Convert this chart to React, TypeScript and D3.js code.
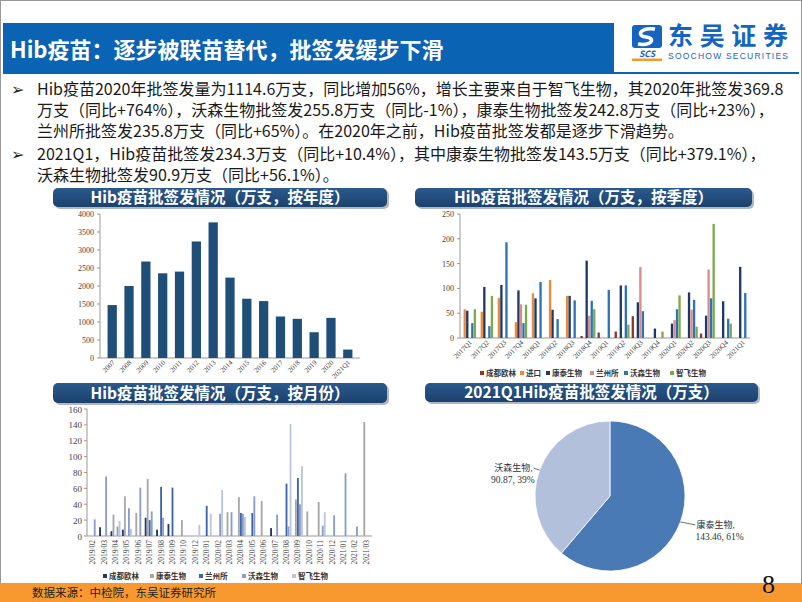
import React from "react";
import * as d3 from "d3";

const CJK = '"Noto Sans CJK SC", "Noto Sans", sans-serif';
const SERIF = '"Liberation Serif", "DejaVu Serif", "Noto Sans CJK SC", serif';

// 年度批签发
const years = ["2007", "2008", "2009", "2010", "2011", "2012", "2013", "2014", "2015", "2016", "2017", "2018", "2019", "2020", "2021Q1"];
const yearValues = [1470, 2000, 2680, 2353, 2400, 3237, 3767, 2233, 1647, 1581, 1153, 1088, 716, 1114.6, 234.3];
const yearTicks = [0, 500, 1000, 1500, 2000, 2500, 3000, 3500, 4000];

// 季度批签发
const quarters = ["2017Q1", "2017Q2", "2017Q3", "2017Q4", "2018Q1", "2018Q2", "2018Q3", "2018Q4", "2019Q1", "2019Q2", "2019Q3", "2019Q4", "2020Q1", "2020Q2", "2020Q3", "2020Q4", "2021Q1"];
const qSeries = ["成都欧林", "进口", "康泰生物", "兰州所", "沃森生物", "智飞生物"];
const qColors = ["#8E3330", "#F0883A", "#1F3864", "#D98C8A", "#2E73B8", "#79AD4A"];
const qChengdu = [0, 0, 0, 0, 0, 0, 0, 4, 11, 13, 44, 0, 0, 0, 9, 0, 0];
const qImport = [58, 53, 81, 32, 90, 117, 85, 0, 0, 0, 0, 0, 0, 0, 0, 0, 0];
const qKangtai = [55, 103, 107, 96, 80, 57, 85, 156, 0, 106, 72, 19, 29, 92, 45, 74, 143.5];
const qLanzhou = [0, 0, 0, 68, 0, 0, 0, 45, 0, 0, 143, 0, 36, 57, 138, 0, 0];
const qWosen = [30, 24, 193, 30, 113, 38, 76, 75, 97, 106, 54, 0, 58, 77, 80, 39, 90.9];
const qZhifei = [58, 85, 0, 67, 0, 0, 0, 58, 0, 27, 0, 13, 86, 23, 230, 29, 0];
const qTicks = [0, 50, 100, 150, 200, 250];

// 月度批签发
const months = ["2019/02", "2019/03", "2019/04", "2019/05", "2019/06", "2019/07", "2019/08", "2019/09", "2019/10", "2019/12", "2020/01", "2020/02", "2020/03", "2020/04", "2020/05", "2020/06", "2020/07", "2020/08", "2020/09", "2020/10", "2020/11", "2020/12", "2021/01", "2021/02", "2021/03"];
const mSeries = ["成都欧林", "康泰生物", "兰州所", "沃森生物", "智飞生物"];
const mColors = ["#1F3864", "#A8A8A8", "#3B66AE", "#8A9DC8", "#BAC6DF"];
const mChengdu = [0, 11, 6, 8, 0, 23, 8, 15, 0, 0, 0, 0, 0, 0, 0, 0, 10, 0, 0, 0, 0, 0, 0, 0, 0];
const mKangtai = [0, 0, 27, 50, 29, 72, 0, 0, 20, 0, 0, 0, 30, 49, 0, 44, 0, 0, 46, 31, 43, 0, 0, 0, 143.5];
const mLanzhou = [0, 0, 0, 0, 0, 20, 62, 61, 0, 0, 38, 0, 0, 29, 29, 0, 0, 66, 73, 0, 0, 0, 0, 0, 0];
const mWosen = [21, 75, 12, 35, 61, 31, 23, 0, 0, 0, 0, 28, 30, 28, 50, 0, 27, 12, 40, 0, 13, 26, 79, 12, 0];
const mZhifei = [0, 0, 19, 9, 0, 0, 0, 0, 0, 14, 28, 58, 0, 24, 0, 0, 0, 141, 88, 0, 30, 0, 0, 0, 0];
const mTicks = [0, 20, 40, 60, 80, 100, 120, 140, 160];

// 2021Q1 结构
const pieNames = ["康泰生物", "沃森生物"];
const pieValues = [143.46, 90.87];
const pieShares = ["61%", "39%"];
const pieColors = ["#4A7AB6", "#B2C0DC"];

const bullets = [
  ["Hib疫苗2020年批签发量为1114.6万支，同比增加56%，增长主要来自于智飞生物，其2020年批签发369.8",
    "万支（同比+764%），沃森生物批签发255.8万支（同比-1%），康泰生物批签发242.8万支（同比+23%），",
    "兰州所批签发235.8万支（同比+65%）。在2020年之前，Hib疫苗批签发都是逐步下滑趋势。"],
  ["2021Q1，Hib疫苗批签发234.3万支（同比+10.4%），其中康泰生物批签发143.5万支（同比+379.1%），",
    "沃森生物批签发90.9万支（同比+56.1%）。"],
];

function Banner({ x, y, w, h, text }: { x: number; y: number; w: number; h: number; text: string }) {
  return (
    <g>
      <rect x={x + 2} y={y + 2} width={w} height={h} rx={5} fill="#8d99a8" opacity={0.7} />
      <rect x={x} y={y} width={w} height={h} rx={5} fill="url(#bannerGrad)" />
      <text x={x + w / 2} y={y + h / 2 + 5.5} textAnchor="middle" fill="#fff" fontFamily={CJK} fontWeight="bold" fontSize={15.5}>
        {text}
      </text>
    </g>
  );
}

function YearChart() {
  const left = 100, right = 360, bottom = 358, top = 214;
  const x = d3.scaleBand().domain(years).range([left, right]).padding(0.45);
  const y = d3.scaleLinear().domain([0, 4000]).range([bottom, top]);
  return (
    <g>
      <line x1={left} x2={left} y1={top} y2={bottom} stroke="#999" />
      <line x1={left} x2={right} y1={bottom} y2={bottom} stroke="#999" />
      {yearTicks.map((t) => (
        <g key={t}>
          <line x1={left - 3} x2={left} y1={y(t)} y2={y(t)} stroke="#999" />
          <text x={left - 6} y={y(t) + 3} textAnchor="end" fontSize={8} fontFamily={SERIF} fill="#444">{t}</text>
        </g>
      ))}
      {years.map((c, i) => (
        <rect key={c} x={x(c)} y={y(yearValues[i])} width={x.bandwidth()} height={bottom - y(yearValues[i])} fill="#1F4E79" />
      ))}
      {years.map((c) => (
        <text key={c} transform={`translate(${(x(c) as number) + x.bandwidth() / 2 + 3},${bottom + 5}) rotate(-45)`}
          textAnchor="end" fontSize={7} fontFamily={SERIF} fill="#444">{c}</text>
      ))}
    </g>
  );
}

function QuarterChart() {
  const left = 460, right = 750, bottom = 338, top = 214;
  const data = [qChengdu, qImport, qKangtai, qLanzhou, qWosen, qZhifei];
  const x0 = d3.scaleBand().domain(quarters).range([left, right]).paddingInner(0.1).paddingOuter(0.05);
  const x1 = d3.scaleBand().domain(qSeries).range([0, x0.bandwidth()]).padding(0.08);
  const y = d3.scaleLinear().domain([0, 250]).range([bottom, top]);
  const legendX = [480, 520, 546, 590, 624, 670];
  return (
    <g>
      <line x1={left} x2={left} y1={top} y2={bottom} stroke="#999" />
      <line x1={left} x2={right} y1={bottom} y2={bottom} stroke="#999" />
      {qTicks.map((t) => (
        <g key={t}>
          <line x1={left - 3} x2={left} y1={y(t)} y2={y(t)} stroke="#999" />
          <text x={left - 6} y={y(t) + 3} textAnchor="end" fontSize={8} fontFamily={SERIF} fill="#444">{t}</text>
        </g>
      ))}
      {quarters.map((q, i) => (
        <g key={q} transform={`translate(${x0(q)},0)`}>
          {qSeries.map((s, j) =>
            data[j][i] > 0 ? (
              <rect key={s} x={x1(s)} y={y(data[j][i])} width={x1.bandwidth()} height={bottom - y(data[j][i])} fill={qColors[j]} />
            ) : null
          )}
        </g>
      ))}
      {quarters.map((q) => (
        <text key={q} transform={`translate(${(x0(q) as number) + x0.bandwidth() / 2 + 4},${bottom + 5}) rotate(-45)`}
          textAnchor="end" fontSize={7} fontFamily={SERIF} fill="#444">{q}</text>
      ))}
      {qSeries.map((s, j) => (
        <g key={s}>
          <rect x={legendX[j]} y={371} width={4} height={4} fill={qColors[j]} />
          <text x={legendX[j] + 6} y={376} fontSize={7.5} fontFamily={CJK} fontWeight="bold" fill="#333">{s}</text>
        </g>
      ))}
    </g>
  );
}

function MonthChart() {
  const left = 87, right = 372, bottom = 536, top = 409;
  const data = [mChengdu, mKangtai, mLanzhou, mWosen, mZhifei];
  const x0 = d3.scaleBand().domain(months).range([left, right]).paddingInner(0.1).paddingOuter(0.05);
  const x1 = d3.scaleBand().domain(mSeries).range([0, x0.bandwidth()]).padding(0.08);
  const y = d3.scaleLinear().domain([0, 160]).range([bottom, top]);
  const legendX = [103, 150, 199, 242, 292];
  return (
    <g>
      <line x1={left} x2={left} y1={top} y2={bottom} stroke="#999" />
      <line x1={left} x2={right} y1={bottom} y2={bottom} stroke="#999" />
      {mTicks.map((t) => (
        <g key={t}>
          <line x1={left - 3} x2={left} y1={y(t)} y2={y(t)} stroke="#999" />
          <text x={left - 5} y={y(t) + 3.5} textAnchor="end" fontSize={9} fontFamily={SERIF} fill="#444">{t}</text>
        </g>
      ))}
      {months.map((m, i) => (
        <g key={m} transform={`translate(${x0(m)},0)`}>
          {mSeries.map((s, j) =>
            data[j][i] > 0 ? (
              <rect key={s} x={x1(s)} y={y(data[j][i])} width={x1.bandwidth()} height={bottom - y(data[j][i])} fill={mColors[j]} />
            ) : null
          )}
        </g>
      ))}
      {months.map((m) => (
        <text key={m} transform={`translate(${(x0(m) as number) + x0.bandwidth() / 2 + 2.5},${bottom + 4}) rotate(-90)`}
          textAnchor="end" fontSize={7.5} fontFamily={SERIF} fill="#444">{m}</text>
      ))}
      {mSeries.map((s, j) => (
        <g key={s}>
          <rect x={legendX[j]} y={574} width={4} height={4} fill={mColors[j]} />
          <text x={legendX[j] + 6} y={579} fontSize={7.5} fontFamily={CJK} fontWeight="bold" fill="#333">{s}</text>
        </g>
      ))}
    </g>
  );
}

function PieChart() {
  const cx = 610, cy = 496, r = 75;
  const pie = d3.pie<number>().sort(null).value((d) => d);
  const arcs = pie(pieValues);
  const arc = d3.arc<d3.PieArcDatum<number>>().innerRadius(0).outerRadius(r);
  return (
    <g transform={`translate(${cx},${cy})`}>
      {arcs.map((a, i) => (
        <path key={pieNames[i]} d={arc(a) as string} fill={pieColors[i]} stroke="#fff" strokeWidth={0.8} />
      ))}
      {arcs.map((a, i) => {
        const mid = (a.startAngle + a.endAngle) / 2;
        const px = Math.sin(mid) * r;
        const py = -Math.cos(mid) * r;
        const side = px > 0 ? 1 : -1;
        const qx = px + side * (side > 0 ? 15 : 6);
        const qy = py + (side > 0 ? 3 : -2);
        return (
          <g key={pieNames[i]}>
            <polyline points={`${px},${py} ${qx},${qy}`} fill="none" stroke="#333" strokeWidth={0.7} />
            <text x={qx + (side > 0 ? 1 : -1)} y={qy + 3} textAnchor={side > 0 ? "start" : "end"} fontSize={9} fontFamily={SERIF} fill="#333">
              {pieNames[i]},
            </text>
            <text x={qx + (side > 0 ? 0 : 1)} y={qy + 15} textAnchor={side > 0 ? "start" : "end"} fontSize={9.5} fontFamily={SERIF} fill="#333">
              {pieValues[i].toFixed(2)}, {pieShares[i]}
            </text>
          </g>
        );
      })}
    </g>
  );
}

export default function App() {
  const lineY = [95, 116, 137, 160, 181];
  let k = 0;
  return (
    <div style={{ position: "absolute", left: 0, top: 0 }}>
      <svg width={802} height={602} style={{ display: "block" }}>
        <defs>
          <linearGradient id="bannerGrad" x1="0" y1="0" x2="0" y2="1">
            <stop offset="0" stopColor="#2A5A8E" />
            <stop offset="1" stopColor="#1B416D" />
          </linearGradient>
        </defs>
        <rect x={0} y={0} width={802} height={602} fill="#fff" />
        <rect x={0.5} y={0.5} width={801} height={601} fill="none" stroke="#999" />

        {/* header */}
        <rect x={3} y={23} width={611} height={51} fill="#0B63B3" />
        <rect x={3} y={72} width={796} height={2} fill="#0B63B3" />
        <text x={10} y={58} fill="#fff" fontFamily={CJK} fontWeight="bold" fontSize={22}>
          Hib疫苗：逐步被联苗替代，批签发缓步下滑
        </text>

        {/* logo */}
        <g>
          <rect x={632} y={25} width={30} height={23} rx={3} fill="#1565C0" />
          <path d="M655 29 C640 27 636 36 646 37 C656 38 652 46 638 44" fill="none" stroke="#fff" strokeWidth={3.5} />
          <text x={647} y={57} textAnchor="middle" fontFamily={CJK} fontWeight="bold" fontStyle="italic" fontSize={8.5} fill="#1565C0">SCS</text>
          <rect x={632} y={58.5} width={30} height={2.5} fill="#F39A2B" />
          <text x={668} y={45} fontFamily={CJK} fontWeight="bold" fontSize={25} fill="#1565C0" textLength={120}>东吴证券</text>
          <text x={668} y={59} fontFamily={'"Liberation Sans", sans-serif'} fontSize={8.5} fill="#1565C0" textLength={120}>SOOCHOW SECURITIES</text>
        </g>

        {/* bullets */}
        {bullets.map((para) =>
          para.map((ln, j) => {
            const yy = lineY[k++];
            return (
              <g key={ln}>
                {j === 0 && (
                  <text x={11} y={yy} fontFamily={'"DejaVu Sans", sans-serif'} fontSize={16} fill="#222">➢</text>
                )}
                <text x={37} y={yy} fontFamily={CJK} fontSize={16} fill="#1a1a1a">{ln}</text>
              </g>
            );
          })
        )}

        <Banner x={53} y={188} w={334} h={19} text="Hib疫苗批签发情况（万支，按年度）" />
        <Banner x={415} y={188} w={337} h={19} text="Hib疫苗批签发情况（万支，按季度）" />
        <Banner x={53} y={383} w={334} h={20} text="Hib疫苗批签发情况（万支，按月份）" />
        <Banner x={425} y={383} w={333} h={19} text="2021Q1Hib疫苗批签发情况（万支）" />

        <YearChart />
        <QuarterChart />
        <MonthChart />
        <PieChart />

        {/* footer */}
        <rect x={0} y={583} width={802} height={19} fill="#F7992F" />
        <text x={32} y={597} fontFamily={CJK} fontSize={11.5} fill="#222">数据来源：中检院，东吴证券研究所</text>
        <text x={762} y={593} fontFamily={SERIF} fontSize={26} fill="#111">8</text>
      </svg>
    </div>
  );
}
